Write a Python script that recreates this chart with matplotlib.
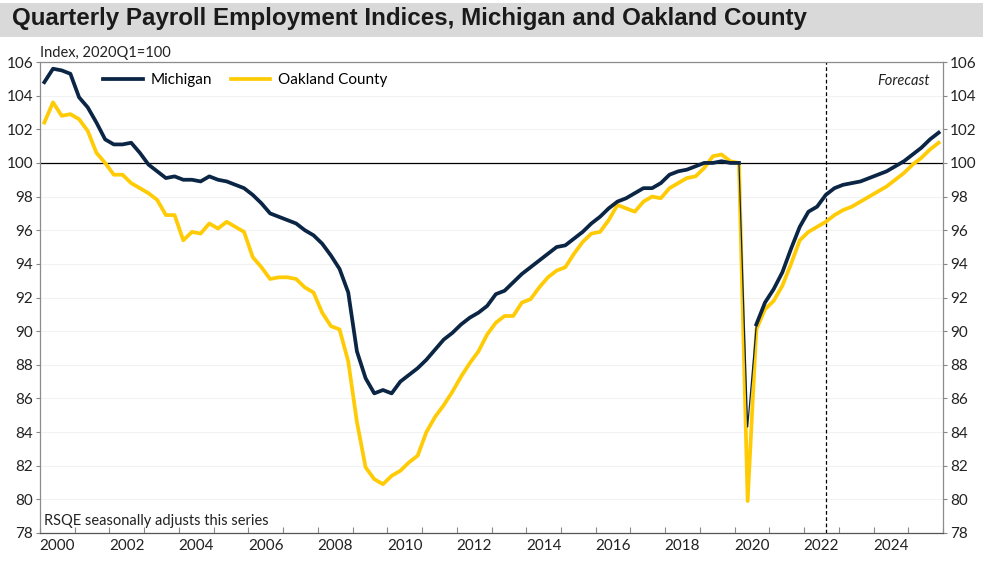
import matplotlib.pyplot as plt
import numpy as np
from matplotlib.patches import Rectangle

# quarterly index values, 2000Q1 .. 2025Q4 (2020Q1 = 100)
michigan = [104.8, 105.6, 105.5, 105.3, 103.9, 103.3, 102.4, 101.4,
            101.1, 101.1, 101.2, 100.6, 99.9, 99.5, 99.1, 99.2,
            99.0, 99.0, 98.9, 99.2, 99.0, 98.9, 98.7, 98.5,
            98.1, 97.6, 97.0, 96.8, 96.6, 96.4, 96.0, 95.7,
            95.2, 94.5, 93.7, 92.3, 88.8, 87.2, 86.3, 86.5,
            86.3, 87.0, 87.4, 87.8, 88.3, 88.9, 89.5, 89.9,
            90.4, 90.8, 91.1, 91.5, 92.2, 92.4, 92.9, 93.4,
            93.8, 94.2, 94.6, 95.0, 95.1, 95.5, 95.9, 96.4,
            96.8, 97.3, 97.7, 97.9, 98.2, 98.5, 98.5, 98.8,
            99.3, 99.5, 99.6, 99.8, 100.0, 100.0, 100.1, 100.0,
            100.0, 84.3, 90.4, 91.7, 92.5, 93.5, 94.9, 96.2,
            97.1, 97.4, 98.1, 98.5, 98.7, 98.8, 98.9, 99.1,
            99.3, 99.5, 99.8, 100.1, 100.5, 100.9, 101.4, 101.8]
oakland = [102.4, 103.6, 102.8, 102.9, 102.6, 101.9, 100.6, 100.0,
           99.3, 99.3, 98.8, 98.5, 98.2, 97.8, 96.9, 96.9,
           95.4, 95.9, 95.8, 96.4, 96.1, 96.5, 96.2, 95.9,
           94.4, 93.8, 93.1, 93.2, 93.2, 93.1, 92.6, 92.3,
           91.1, 90.3, 90.1, 88.2, 84.6, 81.9, 81.2, 80.9,
           81.4, 81.7, 82.2, 82.6, 84.0, 84.9, 85.6, 86.4,
           87.3, 88.1, 88.8, 89.8, 90.5, 90.9, 90.9, 91.7,
           91.9, 92.6, 93.2, 93.6, 93.8, 94.6, 95.3, 95.8,
           95.9, 96.6, 97.5, 97.3, 97.1, 97.7, 98.0, 97.9,
           98.5, 98.8, 99.1, 99.2, 99.7, 100.4, 100.5, 100.1,
           100.0, 79.9, 90.1, 91.3, 91.8, 92.7, 94.0, 95.4,
           95.9, 96.2, 96.5, 96.9, 97.2, 97.4, 97.7, 98.0,
           98.3, 98.6, 99.0, 99.4, 99.9, 100.3, 100.8, 101.2]
start_year = 2000
forecast_start = 2022.625
year_labels = [str(y) for y in range(2000, 2026, 2)]

navy = '#0b2545'
maize = '#FFCB05'
font = ['Lato', 'DejaVu Sans']

t = start_year + (np.arange(len(michigan)) + 0.5) / 4
covid = 81  # index of the 2020Q2 trough

fig = plt.figure(figsize=(9.83, 5.63), dpi=100)
plt.rcParams['font.family'] = font

# title band
fig.patches.append(Rectangle((0, 1 - 37 / 563), 1, 34 / 563, transform=fig.transFigure,
                             facecolor='#d9d9d9', edgecolor='none', zorder=0))
fig.text(12 / 983, 1 - 19 / 563, 'Quarterly Payroll Employment Indices, Michigan and Oakland County',
         fontsize=17.4, fontweight='bold', family=['Liberation Sans', 'DejaVu Sans'],
         va='center', ha='left', color='#1a1a1a')

ax = fig.add_axes([40 / 983, 1 - 533 / 563, 903 / 983, 471 / 563])
oak_line, = ax.plot(t, oakland, color=maize, lw=2.7, zorder=3, solid_joinstyle='round')
mi_line, = ax.plot(t[:covid], michigan[:covid], color=navy, lw=2.7, zorder=4,
                   solid_joinstyle='round')
ax.plot(t[covid + 1:], michigan[covid + 1:], color=navy, lw=2.7, zorder=4, solid_joinstyle='round')
# the 2020 drop: Michigan shows only as a thin line inside the Oakland V
ax.plot(t[covid - 1:covid + 2], michigan[covid - 1:covid + 2], color=navy, lw=0.9, zorder=5)

ax.axhline(100, color='black', lw=0.9, zorder=2)
ax.axvline(forecast_start, color='black', lw=0.9, ls=(0, (3, 2)), zorder=2)

ax.set_xlim(2000, 2026)
ax.set_ylim(78, 106)
ax.set_yticks(np.arange(78, 107, 2))
ax.grid(axis='y', color='#f2f2f2', lw=0.8)
ax.set_axisbelow(True)

ax.set_xticks(np.arange(2000, 2027, 1))
ax.set_xticklabels([])
ax.set_xticks(np.arange(2000.5, 2025, 2), minor=True)
ax.set_xticklabels(year_labels, minor=True)
ax.tick_params(axis='x', which='major', direction='in', length=4, color='#888888')
ax.tick_params(axis='x', which='minor', length=0, labelsize=11, pad=4, labelcolor='#222222')
ax.tick_params(axis='y', direction='out', length=3, color='#888888', labelsize=11,
               labelcolor='#222222', right=True, labelright=True, pad=2)

for s in ax.spines.values():
    s.set_color('#8c8c8c')
    s.set_linewidth(0.9)
ax.spines['bottom'].set_color('#555555')

ax.legend([mi_line, oak_line], ['Michigan', 'Oakland County'], loc='upper left',
          bbox_to_anchor=(0.055, 1.005), ncol=2, frameon=False, fontsize=11,
          handlelength=2.6, columnspacing=1.2, handletextpad=0.5)

ax.text(0, 1.005, 'Index, 2020Q1=100', transform=ax.transAxes, fontsize=10.5,
        ha='left', va='bottom', color='#222222')
ax.text(0.985, 0.975, 'Forecast', transform=ax.transAxes, fontsize=10.5, style='italic',
        ha='right', va='top', color='#222222')
ax.text(0.004, 0.01, 'RSQE seasonally adjusts this series', transform=ax.transAxes,
        fontsize=10.5, ha='left', va='bottom', color='#222222')

fig.savefig('out.png', dpi=100)
